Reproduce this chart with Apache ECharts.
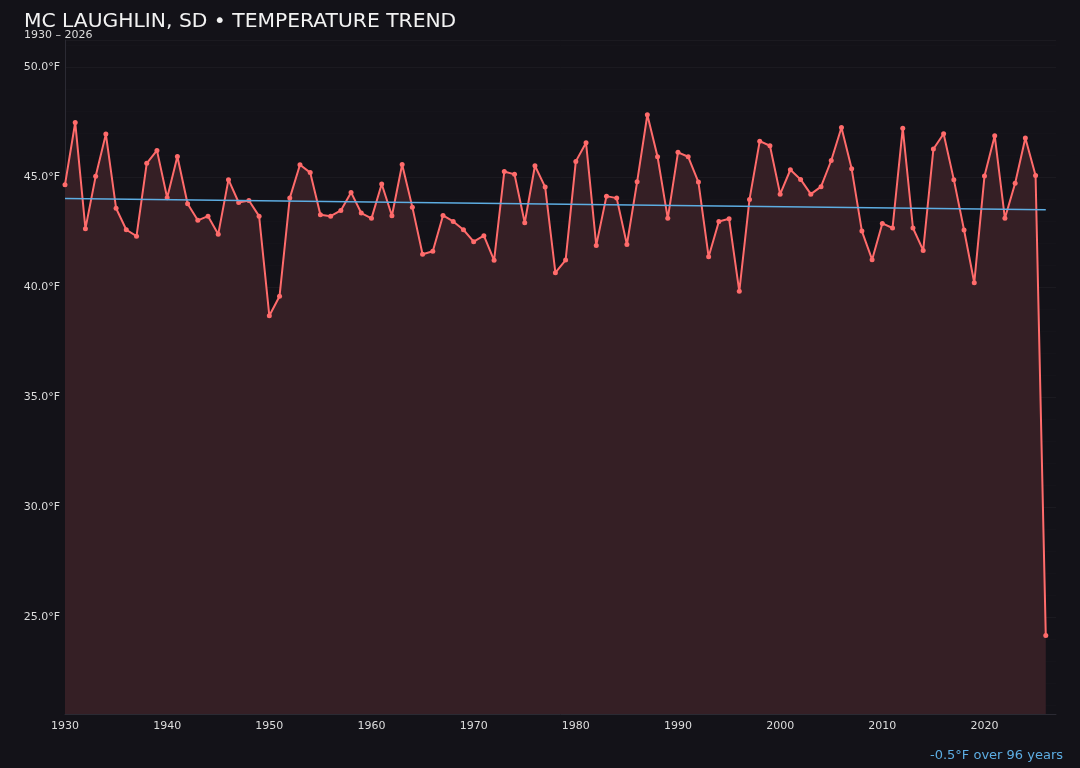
<!DOCTYPE html>
<html>
<head>
<meta charset="utf-8">
<script src="https://cdn.jsdelivr.net/npm/echarts@6/dist/echarts.min.js"></script>
<style>
  html, body { margin: 0; padding: 0; background: #131218; }
  #chart { width: 1080px; height: 768px; }
</style>
</head>
<body>
<div id="chart"></div>
<script>
const years = [
  1930, 1931, 1932, 1933, 1934, 1935, 1936, 1937, 1938, 1939,
  1940, 1941, 1942, 1943, 1944, 1945, 1946, 1947, 1948, 1949,
  1950, 1951, 1952, 1953, 1954, 1955, 1956, 1957, 1958, 1959,
  1960, 1961, 1962, 1963, 1964, 1965, 1966, 1967, 1968, 1969,
  1970, 1971, 1972, 1973, 1974, 1975, 1976, 1977, 1978, 1979,
  1980, 1981, 1982, 1983, 1984, 1985, 1986, 1987, 1988, 1989,
  1990, 1991, 1992, 1993, 1994, 1995, 1996, 1997, 1998, 1999,
  2000, 2001, 2002, 2003, 2004, 2005, 2006, 2007, 2008, 2009,
  2010, 2011, 2012, 2013, 2014, 2015, 2016, 2017, 2018, 2019,
  2020, 2021, 2022, 2023, 2024, 2025, 2026
]
const temps = [
  44.67, 47.50, 42.67, 45.05, 46.97, 43.60, 42.62, 42.33, 45.64, 46.23,
  44.08, 45.95, 43.80, 43.05, 43.24, 42.42, 44.90, 43.86, 43.95, 43.24,
  38.71, 39.60, 44.06, 45.58, 45.22, 43.30, 43.24, 43.50, 44.32, 43.38,
  43.14, 44.70, 43.26, 45.59, 43.65, 41.51, 41.64, 43.27, 43.00, 42.62,
  42.08, 42.35, 41.23, 45.27, 45.14, 42.94, 45.53, 44.56, 40.67, 41.24,
  45.73, 46.58, 41.91, 44.15, 44.06, 41.95, 44.80, 47.85, 45.94, 43.14,
  46.14, 45.94, 44.79, 41.39, 43.00, 43.12, 39.82, 44.00, 46.65, 46.44,
  44.24, 45.35, 44.91, 44.24, 44.58, 45.77, 47.27, 45.39, 42.56, 41.26,
  42.91, 42.70, 47.24, 42.70, 41.68, 46.29, 46.99, 44.90, 42.61, 40.21,
  45.06, 46.90, 43.14, 44.74, 46.79, 45.09, 24.17
]
const yTickLabels = [25, 30, 35, 40, 45, 50]

// least squares trend over the whole record
function trendLine(xs, ys) {
  let n = xs.length, sx = 0, sy = 0
  for (let i = 0; i < n; i++) { sx += xs[i]; sy += ys[i] }
  let mx = sx / n, my = sy / n, sxy = 0, sxx = 0
  for (let i = 0; i < n; i++) {
    sxy += (xs[i] - mx) * (ys[i] - my)
    sxx += (xs[i] - mx) * (xs[i] - mx)
  }
  let b = sxy / sxx
  let a = my - b * mx
  return [[xs[0], a + b * xs[0]], [xs[n - 1], a + b * xs[n - 1]]]
}

const trend = trendLine(years, temps)
const change = trend[1][1] - trend[0][1]
const span = years[years.length - 1] - years[0]

const chart = echarts.init(document.getElementById('chart'))
chart.setOption({
  backgroundColor: '#131218',
  animation: false,
  textStyle: { fontFamily: 'DejaVu Sans' },
  title: [
    {
      text: 'MC LAUGHLIN, SD • TEMPERATURE TREND',
      left: 24, top: 12, padding: 0,
      textStyle: { color: '#f2f2f2', fontSize: 20.3, fontWeight: 'normal', fontFamily: 'DejaVu Sans' }
    },
    {
      text: years[0] + ' – ' + years[years.length - 1],
      left: 24, top: 30, padding: 0,
      textStyle: { color: '#dcdcdc', fontSize: 11, fontWeight: 'normal', fontFamily: 'DejaVu Sans' }
    },
    {
      text: (change >= 0 ? '+' : '') + change.toFixed(1) + '°F over ' + span + ' years',
      right: 17, top: 749, padding: 0,
      textStyle: { color: '#5dade2', fontSize: 13, fontWeight: 'normal', fontFamily: 'DejaVu Sans' }
    }
  ],
  grid: { left: 65, right: 24, top: 40, bottom: 54 },
  xAxis: {
    type: 'value',
    min: 1930,
    max: 2027,
    interval: 10,
    axisLine: { show: true, lineStyle: { color: '#2b2a33', width: 1 } },
    axisTick: { show: false },
    axisLabel: {
      color: '#dcdcdc', fontSize: 11, margin: 7, showMaxLabel: false,
      formatter: v => String(v)
    },
    splitLine: { show: false }
  },
  yAxis: {
    type: 'value',
    min: 20.6,
    max: 51.25,
    axisLine: { show: true, lineStyle: { color: '#2b2a33', width: 1 } },
    axisTick: { show: false },
    axisLabel: {
      color: '#dcdcdc', fontSize: 11, margin: 5,
      showMinLabel: false, showMaxLabel: false,
      formatter: v => yTickLabels.indexOf(Math.round(v * 10) / 10) >= 0 ? v.toFixed(1) + '°F' : ''
    },
    splitLine: { show: true, lineStyle: { color: 'rgba(255,255,255,0.035)', width: 1 } },
    minorTick: { show: false, splitNumber: 5 },
    minorSplitLine: { show: true, lineStyle: { color: 'rgba(255,255,255,0.012)', width: 1 } }
  },
  series: [
    {
      type: 'line',
      data: years.map((y, i) => [y, temps[i]]),
      symbol: 'circle',
      symbolSize: 5,
      lineStyle: { color: '#ff6b6b', width: 2 },
      itemStyle: { color: '#ff6b6b' },
      areaStyle: { color: '#351f25', opacity: 1, origin: 'start' },
      z: 2
    },
    {
      type: 'line',
      data: trend,
      symbol: 'none',
      lineStyle: { color: '#5dade2', width: 1.5 },
      z: 3
    }
  ]
})
</script>
</body>
</html>
